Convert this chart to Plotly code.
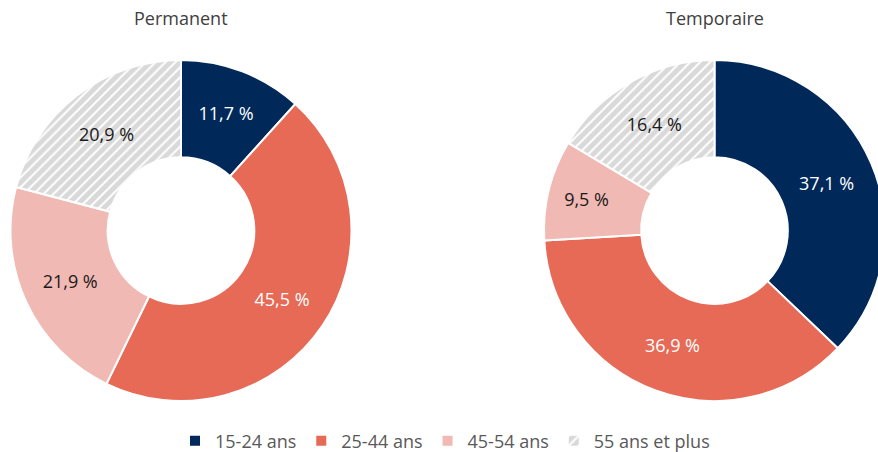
import plotly.graph_objects as go

# Age groups and their shares (%) by contract type
age_groups = ["15-24 ans", "25-44 ans", "45-54 ans", "55 ans et plus"]
permanent = [11.7, 45.5, 21.9, 20.9]
temporaire = [37.1, 36.9, 9.5, 16.4]
titles = ["Permanent", "Temporaire"]

colors = ["#00295A", "#E66A56", "#F0B9B3", "#D9D9D9"]
text_colors = ["#FFFFFF", "#FFFFFF", "#1A1A1A", "#1A1A1A"]
FONT = "Open Sans"

W, H = 886, 452


def fr_pct(v):
    return f"{v:.1f}".replace(".", ",") + " %"


def donut(values, name, x0, x1, show_legend):
    return go.Pie(
        labels=age_groups,
        values=values,
        name=name,
        text=[fr_pct(v) for v in values],
        texttemplate="%{text}",
        textposition="inside",
        insidetextorientation="horizontal",
        textfont=dict(family=FONT, size=18, color=text_colors),
        hole=0.43,
        sort=False,
        direction="clockwise",
        rotation=0,
        marker=dict(
            colors=colors,
            line=dict(color="white", width=2),
            pattern=dict(
                shape=["", "", "", "/"],
                fgcolor="white",
                bgcolor=colors,
                size=7,
                solidity=0.28,
                fillmode="replace",
            ),
        ),
        domain=dict(x=[x0 / W, x1 / W], y=[1 - 401 / H, 1 - 60 / H]),
        showlegend=show_legend,
        hoverinfo="label+text",
    )


fig = go.Figure()
fig.add_trace(donut(permanent, titles[0], 10.5, 351.5, True))
fig.add_trace(donut(temporaire, titles[1], 544, 885, False))

for title, cx in zip(titles, [181, 715]):
    fig.add_annotation(
        text=title, x=cx / W, y=1 - 18 / H, xref="paper", yref="paper",
        xanchor="center", yanchor="middle", showarrow=False,
        font=dict(family=FONT, size=18, color="#404040"),
    )

fig.update_layout(
    width=W,
    height=H,
    autosize=False,
    margin=dict(l=0, r=0, t=0, b=0, autoexpand=False),
    paper_bgcolor="white",
    plot_bgcolor="white",
    font=dict(family=FONT, size=18, color="#595959"),
    legend=dict(
        orientation="h",
        x=175 / W,
        xanchor="left",
        y=1 - 441 / H,
        yanchor="middle",
        traceorder="normal",
        font=dict(family=FONT, size=18, color="#595959"),
    ),
)

fig.write_html(
    "out.html",
    post_script="document.documentElement.style.overflow='hidden';"
                "document.body.style.overflow='hidden';"
                "document.body.style.margin='0';",
)
